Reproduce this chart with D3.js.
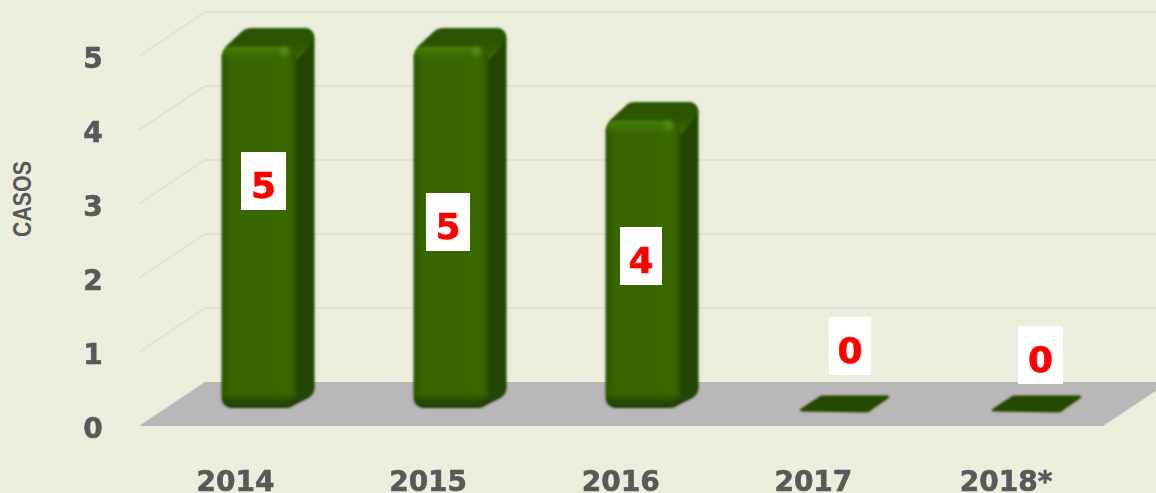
<!DOCTYPE html>
<html><head><meta charset="utf-8">
<script src="https://cdn.jsdelivr.net/npm/d3@7/dist/d3.min.js"></script>
<style>html,body{margin:0;padding:0;background:#EBEEDD;overflow:hidden}svg{display:block}</style>
</head><body><svg id="c" width="1156" height="493"></svg>
<script>
const categories = ["2014","2015","2016","2017","2018*"];
const casos = [5,5,4,0,0];
const yTicks = [0,1,2,3,4,5];
const yTitle = "CASOS";

const W=1156,H=493;
const svg=d3.select("#c");
const defs=svg.append("defs");

// 3-D frame of the plot
const plot={left:139,right:1103,depthX:66,depthY:44};
const y=d3.scaleLinear().domain([0,5]).range([426,56]);
const x=d3.scaleBand().domain(categories).range([163,1123]).paddingInner(0).paddingOuter(0);
const xLabel=d3.scalePoint().domain(categories).range([235.5,1006]);
const barW=75, sideX=18, sideY=18, frontInset=13;
const barOffset=(x.bandwidth()-barW)/2;

// gradients
function lin(id,stops,horizontal=true){
  const g=defs.append("linearGradient").attr("id",id)
    .attr("x1",0).attr("y1",0).attr("x2",horizontal?1:0).attr("y2",horizontal?0:1);
  stops.forEach(s=>g.append("stop").attr("offset",s[0]).attr("stop-color",s[1]));
}
lin("face",[[0,"#2a5000"],[.06,"#346000"],[.14,"#386600"],[.72,"#386600"],[.84,"#3b6c00"],[.94,"#366200"],[1,"#2d5400"]]);
lin("side",[[0,"#2c5400"],[.3,"#244600"],[1,"#234400"]]);
lin("top",[[0,"#2c5500"],[.5,"#2d5600"],[1,"#3f7405"]],false);
lin("shadeB",[[0,"rgba(20,40,0,0)"],[1,"rgba(20,40,0,.75)"]],false);
lin("shadeT",[[0,"rgba(72,130,12,.75)"],[1,"rgba(72,130,12,0)"]],false);
defs.append("filter").attr("id","soft").attr("x","-5%").attr("y","-5%").attr("width","110%").attr("height","110%")
  .append("feGaussianBlur").attr("stdDeviation",0.9);
defs.append("filter").attr("id","seam").attr("x","-20%").attr("y","-20%").attr("width","140%").attr("height","140%")
  .append("feGaussianBlur").attr("stdDeviation",2);

// walls
const grid=svg.append("g").attr("fill","none").attr("stroke","#DDE0DC").attr("stroke-width",2);
yTicks.filter(t=>t>0).forEach(t=>{
  const yf=y(t);
  grid.append("path").attr("d",d3.line()([[plot.left,yf],[plot.left+plot.depthX,yf-plot.depthY],[W,yf-plot.depthY]]));
});

// floor
svg.append("path").attr("fill","#B8B8B8")
  .attr("d",d3.line()([[plot.left,y(0)],[plot.left+plot.depthX,y(0)-plot.depthY],[plot.right+plot.depthX,y(0)-plot.depthY],[plot.right,y(0)]])+"Z");

// bars
const bars=svg.append("g").attr("filter","url(#soft)");
categories.forEach((c,i)=>{
  const v=casos[i], g=bars.append("g");
  const xl=x(c)+barOffset, xr=xl+barW;
  const base=y(0)-frontInset;
  if(v===0){
    g.append("path").attr("fill","#274a00").attr("stroke","#274a00").attr("stroke-width",3).attr("stroke-linejoin","round")
      .attr("d",d3.line()([[xl+4,base-3],[xl+24,base-16],[xr+sideX-3,base-16],[xr-5,base-2]])+"Z");
    return;
  }
  const top=y(v)-frontInset+3, bot=base-5, r=12;
  // side + top silhouette
  g.append("path").attr("fill","url(#side)")
    .attr("d",`M${xr-r},${top} L${xr+sideX-r},${top-sideY} Q${xr+sideX},${top-sideY} ${xr+sideX},${top-sideY+r}
      L${xr+sideX},${bot-sideY-2} Q${xr+sideX},${bot-sideY+4} ${xr+sideX-6},${bot-sideY+8} L${xr-8},${bot} Z`);
  g.append("path").attr("fill","url(#top)")
    .attr("d",`M${xl},${top+r} Q${xl},${top+3} ${xl+8},${top-3} L${xl+sideX+4},${top-sideY+2} Q${xl+sideX+7},${top-sideY} ${xl+sideX+12},${top-sideY}
      L${xr+sideX-10},${top-sideY} Q${xr+sideX},${top-sideY} ${xr+sideX},${top-sideY+12} L${xr+6},${top+8} L${xr-2},${top+r+4} Z`);
  g.append("rect").attr("x",xl).attr("y",top).attr("width",barW).attr("height",bot-top)
    .attr("rx",r).attr("fill","url(#face)");
  g.append("rect").attr("x",xl+1).attr("y",top+1).attr("width",barW-8).attr("height",14)
    .attr("rx",7).attr("fill","url(#shadeT)");
  g.append("rect").attr("x",xl).attr("y",bot-16).attr("width",barW).attr("height",16)
    .attr("rx",r).attr("fill","url(#shadeB)");
  g.append("circle").attr("cx",xr-12).attr("cy",top+5).attr("r",4).attr("fill","#5c9420").attr("opacity",.7).attr("filter","url(#seam)");
});

// value labels with white boxes (placed by hand in the original)
const labelBoxes=[[241,152,45,58],[426,193,44,58],[620,227,42,58],[829,317,42,58],[1018,326,45,58]];
const labels=svg.append("g");
casos.forEach((v,i)=>{
  const b=labelBoxes[i];
  labels.append("rect").attr("x",b[0]).attr("y",b[1]).attr("width",b[2]).attr("height",b[3]).attr("fill","#fff");
  labels.append("text").attr("x",b[0]+b[2]/2).attr("y",b[1]+46)
    .attr("text-anchor","middle").attr("fill","#FF0000").attr("stroke","#FF0000").attr("stroke-width",.6)
    .style("font","bold 36px 'DejaVu Sans'").text(v);
});

// axis text
const axisFont="bold 28px 'DejaVu Sans'";
svg.append("g").selectAll("text").data(yTicks).join("text")
  .attr("x",93).attr("y",t=>y(t)+12).attr("text-anchor","middle").attr("fill","#595959").attr("stroke","#595959").attr("stroke-width",.6)
  .style("font",axisFont).text(t=>t);
svg.append("g").selectAll("text").data(categories).join("text")
  .attr("x",c=>xLabel(c)).attr("y",491).attr("text-anchor","middle").attr("fill","#595959").attr("stroke","#595959").attr("stroke-width",.6)
  .style("font",axisFont).text(c=>c);
svg.append("text").attr("transform","translate(31,199) rotate(-90)").attr("text-anchor","middle")
  .attr("fill","#595959").attr("textLength",76).attr("lengthAdjust","spacingAndGlyphs")
  .style("font","bold 25px 'Liberation Sans'").text(yTitle);
</script></body></html>
